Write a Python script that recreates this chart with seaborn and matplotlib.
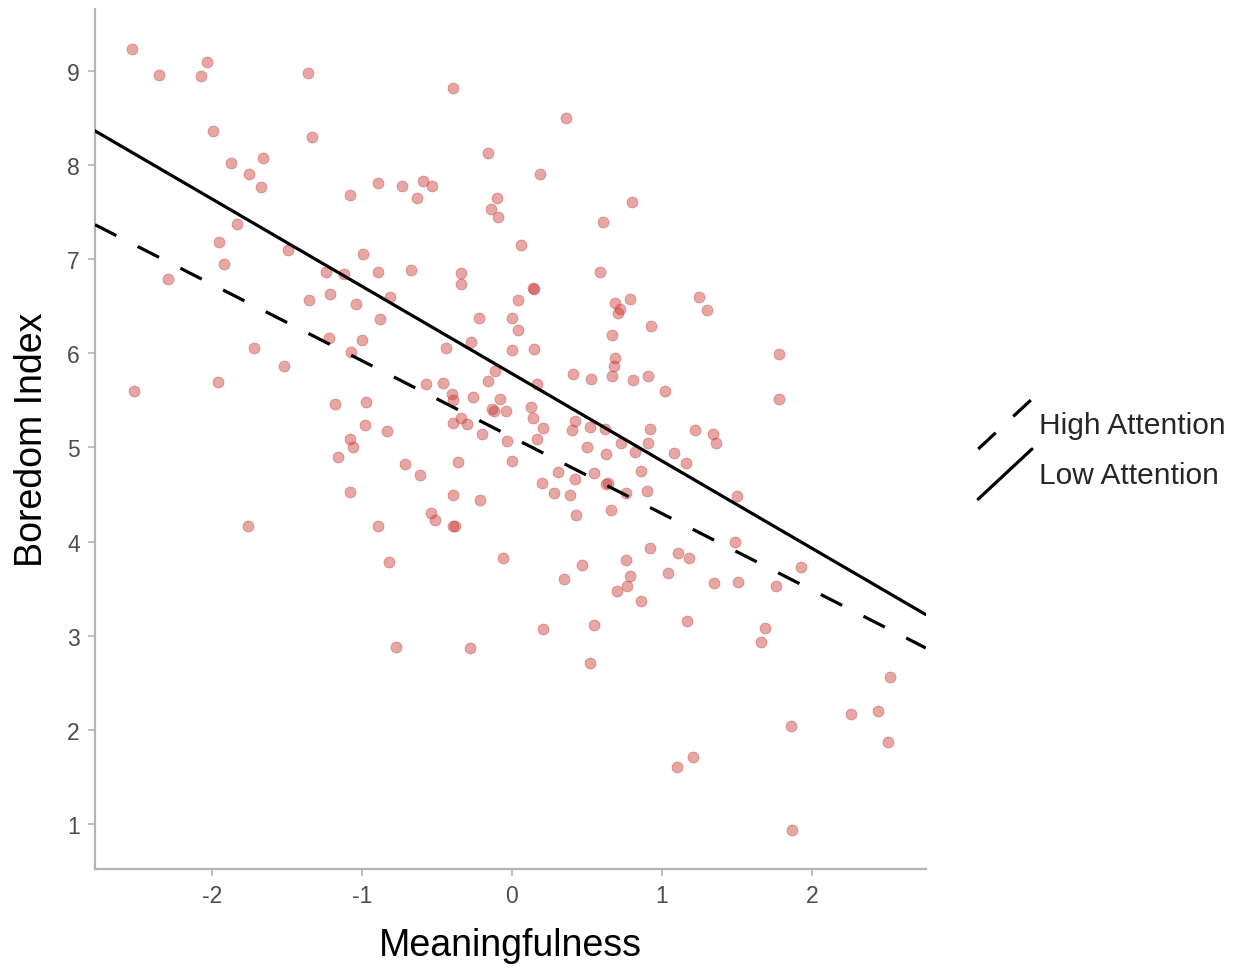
import numpy as np
import pandas as pd
import seaborn as sns
import matplotlib.pyplot as plt
from matplotlib.lines import Line2D
from matplotlib.legend_handler import HandlerBase

# Data (Meaningfulness vs Boredom Index)
meaning = [
    -2.53, -2.35, -2.07, -2.03, -1.36, -0.39, -1.99, -1.33, -1.87, -1.66,
    -1.75, -1.67, -1.08, -1.83, -1.95, 0.36, -0.16, 0.19, -0.89, -0.73,
    -0.59, -0.53, -0.63, -0.10, -0.14, -0.09, 0.80, 0.61, -1.92, -1.49,
    -0.99, -2.29, -1.24, -1.12, -0.89, -1.21, -1.35, -1.04, -1.22, -1.00,
    -1.07, -1.72, -1.52, -1.96, -2.52, -1.18, -0.97, -0.98, -1.08, -1.06,
    -1.16, 0.06, -0.67, -0.34, -0.34, 0.59, 0.14, 0.15, -0.81, 0.04,
    0.69, 0.79, 0.72, 0.71, -0.88, -0.22, 0.00, 0.04, 0.93, 0.67,
    -0.44, -0.27, 0.00, 0.15, 0.69, 0.68, 0.67, 0.41, 0.53, 0.81,
    0.91, -0.11, -0.16, 0.17, -0.57, -0.46, -0.40, -0.39, -0.26, -0.08,
    -0.13, -0.12, -0.04, 0.13, 0.14, 0.21, 0.17, -0.03, -0.20, -0.34,
    -0.39, -0.30, -0.83, 0.42, 0.40, 0.52, 0.62, 0.73, 0.50, 0.63,
    0.82, 0.92, 0.91, 1.25, 1.30, 1.78, 1.78, 1.02, 1.22, 1.34,
    1.36, 1.08, 1.16, -1.08, -1.76, -0.89, -0.71, -0.36, 0.00, -0.61,
    -0.39, -0.21, -0.54, -0.51, -0.39, -0.38, -0.82, -0.06, -0.77, -0.28,
    0.21, 0.55, 0.52, 0.31, 0.20, 0.42, 0.28, 0.39, 0.55, 0.64,
    0.63, 0.76, 0.90, 0.66, 0.43, 0.86, 0.92, 0.76, 0.47, 0.35,
    0.79, 0.77, 0.70, 0.86, 1.50, 1.49, 1.11, 1.18, 1.04, 1.35,
    1.51, 1.93, 1.76, 1.17, 1.69, 1.66, 2.52, 2.26, 2.44, 1.86,
    2.51, 1.21, 1.10, 1.87,
]
boredom = [
    9.23, 8.96, 8.95, 9.10, 8.98, 8.82, 8.36, 8.30, 8.02, 8.08,
    7.91, 7.77, 7.68, 7.38, 7.18, 8.50, 8.13, 7.91, 7.81, 7.78,
    7.83, 7.78, 7.65, 7.65, 7.53, 7.45, 7.61, 7.40, 6.95, 7.10,
    7.06, 6.79, 6.87, 6.84, 6.86, 6.63, 6.57, 6.52, 6.16, 6.14,
    6.01, 6.06, 5.87, 5.70, 5.60, 5.46, 5.48, 5.24, 5.09, 5.01,
    4.90, 7.15, 6.89, 6.85, 6.74, 6.86, 6.70, 6.68, 6.60, 6.57,
    6.54, 6.58, 6.47, 6.43, 6.36, 6.38, 6.38, 6.25, 6.29, 6.19,
    6.06, 6.12, 6.04, 6.05, 5.95, 5.87, 5.76, 5.78, 5.73, 5.72,
    5.76, 5.81, 5.71, 5.67, 5.67, 5.69, 5.57, 5.50, 5.54, 5.52,
    5.41, 5.39, 5.39, 5.43, 5.31, 5.21, 5.09, 5.07, 5.14, 5.31,
    5.26, 5.25, 5.17, 5.28, 5.19, 5.22, 5.20, 5.05, 5.01, 4.93,
    4.95, 5.20, 5.05, 6.60, 6.46, 5.99, 5.52, 5.60, 5.19, 5.14,
    5.05, 4.94, 4.84, 4.53, 4.16, 4.16, 4.82, 4.85, 4.86, 4.71,
    4.49, 4.44, 4.30, 4.23, 4.17, 4.17, 3.78, 3.82, 2.88, 2.87,
    3.07, 3.11, 2.71, 4.74, 4.62, 4.66, 4.52, 4.49, 4.73, 4.62,
    4.61, 4.52, 4.54, 4.34, 4.28, 4.75, 3.93, 3.80, 3.75, 3.60,
    3.63, 3.53, 3.47, 3.37, 4.48, 3.99, 3.88, 3.83, 3.67, 3.56,
    3.57, 3.73, 3.53, 3.16, 3.08, 2.93, 2.56, 2.17, 2.20, 2.04,
    1.87, 1.71, 1.60, 0.93,
]

# Model lines (intercept at Meaningfulness = 0, slope)
groups = ["High Attention", "Low Attention"]
intercepts = [5.11, 5.785]
slopes = [-0.812, -0.928]
styles = [(0, (7.5, 7.5)), "-"]

x_ticks = [-2, -1, 0, 1, 2]
y_ticks = [1, 2, 3, 4, 5, 6, 7, 8, 9]

df = pd.DataFrame({"Meaningfulness": meaning, "Boredom": boredom})

sns.set_theme(style="white")
plt.rcParams["font.family"] = ["Liberation Sans", "DejaVu Sans"]
plt.rcParams["axes.unicode_minus"] = False

fig = plt.figure(figsize=(12.4, 9.7), dpi=100)
ax = fig.add_axes([0.0766, 0.1031, 0.670, 0.8866])

sns.scatterplot(data=df, x="Meaningfulness", y="Boredom", ax=ax,
                color="#c83a36", alpha=0.45, s=62, edgecolor="#c83a36",
                linewidth=0.6, zorder=2)

handles = []
for g, b0, b1, ls in zip(groups, intercepts, slopes, styles):
    ax.axline((0, b0), slope=b1, color="black", lw=2.3, linestyle=ls, zorder=3)
    handles.append(Line2D([], [], color="black", lw=2.3, linestyle=ls, label=g))

ax.set_xlim(-2.78, 2.76)
ax.set_ylim(0.52, 9.66)
ax.set_xticks(x_ticks)
ax.set_yticks(y_ticks)
ax.set_xlabel("Meaningfulness", fontsize=27, color="black", labelpad=14)
ax.set_ylabel("Boredom Index", fontsize=27, color="black", labelpad=12)

for side in ["top", "right"]:
    ax.spines[side].set_visible(False)
for side in ["left", "bottom"]:
    ax.spines[side].set_color("#b3b3b3")
    ax.spines[side].set_linewidth(1.6)
ax.tick_params(axis="both", which="major", direction="out", length=5, width=1.2,
               color="#b3b3b3", labelcolor="#4d4d4d", labelsize=16.5, pad=6,
               bottom=True, left=True)


class HandlerDiagonal(HandlerBase):
    def create_artists(self, legend, orig_handle, xdescent, ydescent,
                       width, height, fontsize, trans):
        line = Line2D([-xdescent, -xdescent + width],
                      [-ydescent, -ydescent + height])
        self.update_prop(line, orig_handle, legend)
        line.set_transform(trans)
        return [line]


fig.legend(handles=handles, loc="center left", bbox_to_anchor=(0.772, 0.536),
           frameon=False, fontsize=21.5, handlelength=1.8, handleheight=2.2,
           handletextpad=0.25, labelspacing=0.0, borderpad=0.2,
           handler_map={Line2D: HandlerDiagonal()})

fig.savefig("out.png", dpi=100)
